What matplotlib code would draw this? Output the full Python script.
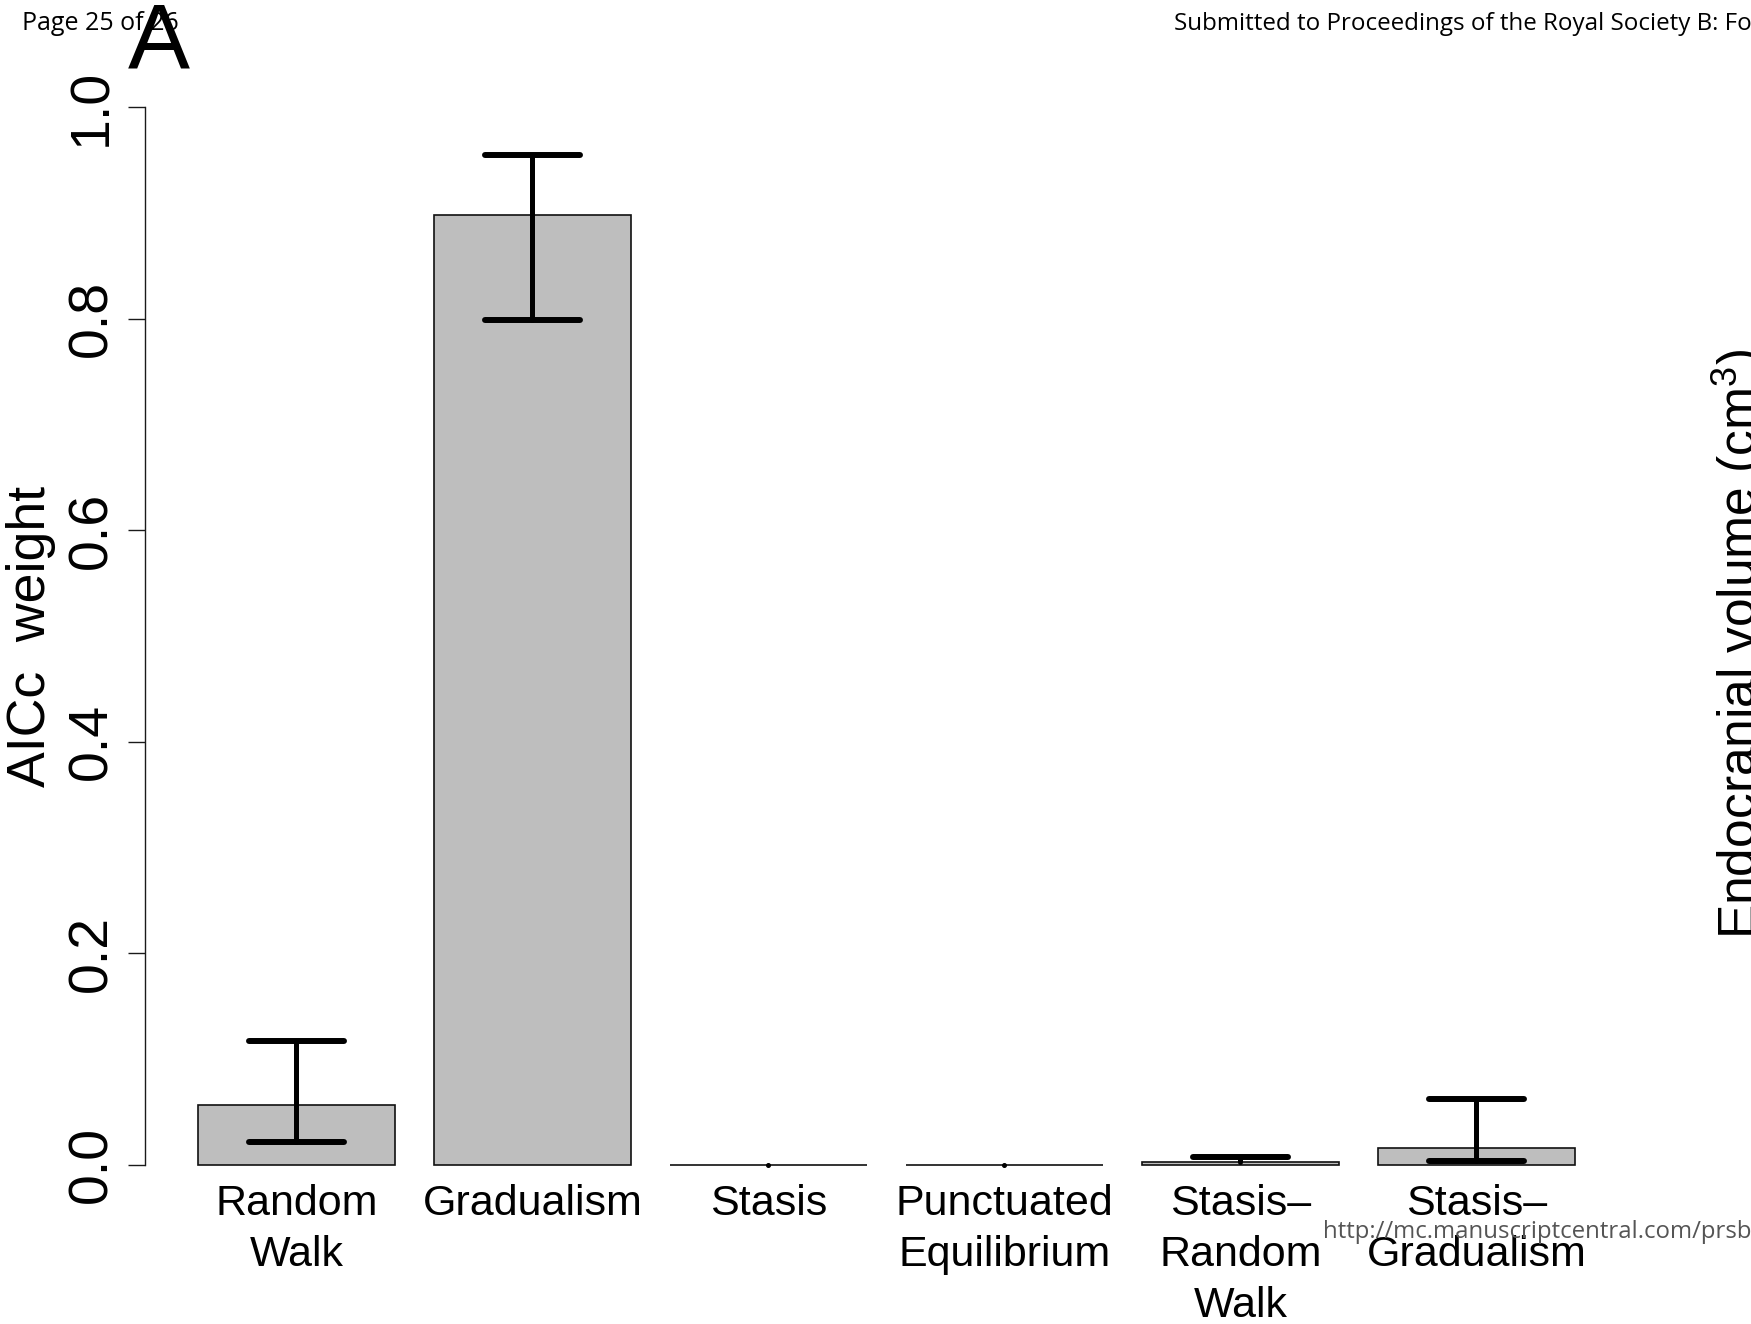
import matplotlib
matplotlib.use("Agg")
import matplotlib.pyplot as plt
import numpy as np

# ---- data ----
categories = ["Random\nWalk", "Gradualism", "Stasis", "Punctuated\nEquilibrium",
              "Stasis\u2013\nRandom\nWalk", "Stasis\u2013\nGradualism"]
weights = [0.056, 0.898, 0.0, 0.0, 0.0025, 0.0153]
err_low = [0.021, 0.799, 0.0, 0.0, 0.0025, 0.0033]
err_high = [0.117, 0.955, 0.0, 0.0, 0.0075, 0.062]
y_ticks = [0.0, 0.2, 0.4, 0.6, 0.8, 1.0]
y_tick_labels = ["0.0", "0.2", "0.4", "0.6", "0.8", "1.0"]

W, H = 1751, 1324
DPI = 100
plt.rcParams['font.family'] = ['Liberation Sans', 'DejaVu Sans']
plt.rcParams['mathtext.fontset'] = 'custom'
plt.rcParams['mathtext.rm'] = 'Liberation Sans'
plt.rcParams['mathtext.it'] = 'Liberation Sans:italic'

fig = plt.figure(figsize=(W / DPI, H / DPI), dpi=DPI)


def px(xp, yp):
    return (xp / W, 1 - yp / H)


ax_left, ax_right = 144.5, 1589
ax_top, ax_bot = 65.2, 1206.8
ax = fig.add_axes([ax_left / W, 1 - ax_bot / H,
                   (ax_right - ax_left) / W, (ax_bot - ax_top) / H])

n = len(categories)
x = 0.7 + 1.2 * np.arange(n)
w = np.array(weights)
ax.bar(x, w, width=1.0, color='#bebebe', edgecolor='#111111',
       linewidth=1.2, zorder=2)

lo = np.array(err_low)
hi = np.array(err_high)
ax.vlines(x, lo, hi, colors='black', linewidth=3.6, capstyle='round', zorder=3)
up = hi > w
dn = lo < w
ax.hlines(hi[up], x[up] - 0.24, x[up] + 0.24, colors='black',
          linewidth=4.3, capstyle='round', zorder=3)
ax.hlines(lo[dn], x[dn] - 0.24, x[dn] + 0.24, colors='black',
          linewidth=4.3, capstyle='round', zorder=3)
flat = ~(up | dn)
ax.plot(x[flat], w[flat], 'o', color='black', markersize=2.6, zorder=3)

ax.set_xlim(-0.072, 7.272)
ax.set_ylim(-0.04, 1.04)
for s in ['top', 'right', 'bottom']:
    ax.spines[s].set_visible(False)
ax.spines['left'].set_bounds(0, 1)
ax.spines['left'].set_linewidth(1.0)
ax.spines['left'].set_color('#1a1a1a')

ax.set_yticks(y_ticks, y_tick_labels, rotation=90, va='center', ha='right',
              fontsize=40)
ax.tick_params(axis='y', direction='out', length=12.2, width=1.0, pad=6.5,
               color='#1a1a1a')
ax.set_xticks(x, categories, fontsize=31, linespacing=1.35)
ax.tick_params(axis='x', length=0, pad=-16.3)

fig.text(*px(45, 636), "AICc  weight", rotation=90, rotation_mode='anchor',
         ha='center', va='baseline', fontsize=38.6)
fig.text(*px(1756, 939), r"Endocranial volume (cm$^{3}$)", rotation=90,
         rotation_mode='anchor', ha='left', va='baseline', fontsize=37.1)

fig.text(*px(22, 30), "Page 25 of 26", family=['Open Sans', 'DejaVu Sans'],
         fontsize=18, ha='left', va='baseline', zorder=1)
fig.text(*px(1174, 30), "Submitted to Proceedings of the Royal Society B: For Review Only",
         family=['Open Sans', 'DejaVu Sans'], fontsize=17.4, ha='left', va='baseline')
fig.text(*px(1323, 1238), "http://mc.manuscriptcentral.com/prsb",
         family=['Open Sans', 'DejaVu Sans'], fontsize=17.3, color='#555555',
         ha='left', va='baseline', zorder=5)
fig.text(*px(159, 69), "A", ha='center', va='baseline', fontsize=67, zorder=3)

fig.savefig('out.png', dpi=DPI)
